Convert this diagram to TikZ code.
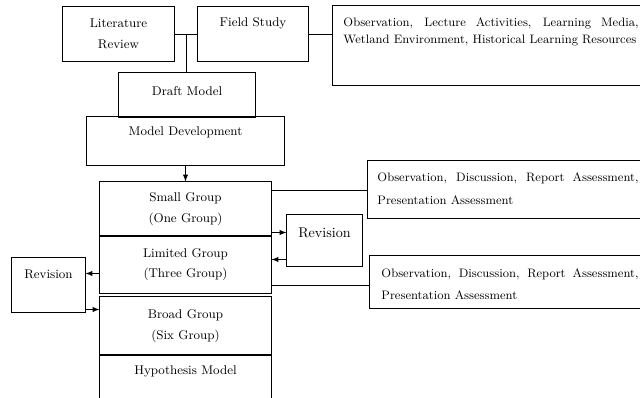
\documentclass[tikz,border=0pt]{standalone}
\usetikzlibrary{calc}
\begin{document}
\begin{tikzpicture}[>=latex,x=0.025cm,y=-0.025cm,line width=0.7pt,
        box/.style={draw,inner sep=0pt,align=center,font=\fontsize{9}{14.5}\selectfont},
        lbl/.style={inner sep=0pt,font=\fontsize{9}{11}\selectfont},
        obstxt/.style={inner sep=0pt,align=justify,font=\fontsize{8.7}{12}\selectfont}]
        \useasboundingbox(0,0)rectangle(640,398);
        \clip(0,0)rectangle(640,398);
        % top row
        \node[box,minimum width=2.775cm,minimum height=1.35cm](lit)at(118.5,34){Literature\\Review};
        \node[box,minimum width=2.75cm,minimum height=1.35cm](field)at(253,34){};
        \node[lbl](fieldlbl)at(253,23){Field Study};
        \node[box,minimum width=8.175cm,minimum height=1.975cm](obs1)at(496.5,45.5){};
        \node[obstxt,text width=7.375cm,anchor=west](obs1lbl)at(343,31.5){Observation, Lecture Activities, Learning Media,\linebreak Wetland Environment, Historical Learning Resources};
        % model
        \node[box,minimum width=3.4cm,minimum height=1.1cm](draft)at(187,95){};
        \node[lbl](draftlbl)at(187,91){Draft Model};
        \node[box,minimum width=4.925cm,minimum height=1.2cm](moddev)at(185.5,141){};
        \node[lbl](moddevlbl)at(185.5,132){Model Development};
        % trial groups
        \node[box,minimum width=4.275cm,minimum height=1.35cm](small)at(185.5,209){Small Group\\(One Group)};
        \node[box,minimum width=4.275cm,minimum height=1.425cm](limited)at(185.5,264.5){Limited Group\\(Three Group)};
        \node[box,minimum width=4.275cm,minimum height=1.45cm](broad)at(185.5,326){Broad Group\\(Six Group)};
        \node[box,minimum width=4.275cm,minimum height=1.625cm](hypo)at(185.5,387.5){};
        \node[lbl](hypolbl)at(185.5,371){Hypothesis Model};
        % revisions
        \node[box,minimum width=1.875cm,minimum height=1.275cm](revR)at(324.5,240.5){};
        \node[lbl,font=\fontsize{10}{12}\selectfont](revRlbl)at(324.5,233){Revision};
        \node[box,minimum width=1.825cm,minimum height=1.35cm](revL)at(48.5,285){};
        \node[lbl](revLlbl)at(48.5,274){Revision};
        % assessments
        \node[box,minimum width=7.3cm,minimum height=1.425cm](obs2)at(514,189.5){};
        \node[obstxt,text width=6.525cm,anchor=west,font=\fontsize{8.7}{16}\selectfont](obs2lbl)at(377,188.5){Observation, Discussion, Report Assessment,\linebreak Presentation Assessment};
        \node[box,minimum width=7.25cm,minimum height=1.3cm](obs3)at(515,282){};
        \node[obstxt,text width=6.425cm,anchor=west,font=\fontsize{8.7}{15.5}\selectfont](obs3lbl)at(381,284.5){Observation, Discussion, Report Assessment,\linebreak Presentation Assessment};
        % connectors
        \coordinate(j)at($(lit.east)!0.5!(field.west)$);
        \draw(lit.east)--(field.west);
        \draw(j)--(j|-draft.north);
        \draw(field.east)--(field.east-|obs1.west);
        \draw[->](moddev.south)--(small.north);
        \coordinate(sgo)at([yshift=-0.225cm]small.north east);
        \draw(sgo)--(sgo-|obs2.west);
        \coordinate(sgr)at([yshift=0.1cm]small.south east);
        \draw[->](sgr)--(sgr-|revR.west);
        \coordinate(rrl)at([yshift=0.175cm]revR.south west);
        \draw[->](rrl)--(rrl-|limited.east);
        \coordinate(lgo)at([yshift=0.2cm]limited.south east);
        \draw(lgo)--(lgo-|obs3.west);
        \coordinate(lgl)at([yshift=0.5cm]limited.south west);
        \draw[->](lgl)--(lgl-|revL.east);
        \coordinate(rlr)at([yshift=0.075cm]revL.south east);
        \draw[->](rlr)--(rlr-|broad.west);
    \end{tikzpicture}
\end{document}
